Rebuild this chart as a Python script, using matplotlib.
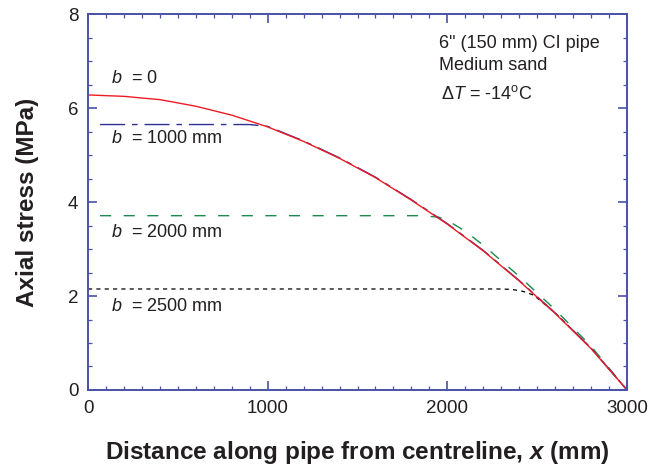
import matplotlib
matplotlib.use("Agg")
import matplotlib.pyplot as plt
from matplotlib.ticker import MultipleLocator

# b = 0 (red, solid)
x_b0 = [0, 200, 400, 600, 800, 1000, 1200, 1400, 1600, 1800, 2000,
        2200, 2400, 2600, 2800, 3000]
s_b0 = [6.28, 6.25, 6.18, 6.04, 5.85, 5.60, 5.29, 4.93, 4.52, 4.04, 3.53,
        2.96, 2.32, 1.63, 0.88, 0.0]

# b = 1000 mm (blue, dash-dot)
x_b1000 = [67, 900, 1000, 1200, 1400, 1600, 1800, 2000, 2200, 2400, 2600,
           2800, 3000]
s_b1000 = [5.65, 5.65, 5.61, 5.30, 4.94, 4.53, 4.05, 3.54, 2.97, 2.33, 1.64,
           0.89, 0.0]

# b = 2000 mm (green, dashed)
x_b2000 = [67, 1850, 1950, 2000, 2100, 2200, 2400, 2600, 2800, 3000]
s_b2000 = [3.71, 3.71, 3.68, 3.61, 3.38, 3.08, 2.42, 1.71, 0.93, 0.0]

# b = 2500 mm (black, short dashes)
x_b2500 = [0, 2300, 2360, 2420, 2480, 2600, 2800, 3000]
s_b2500 = [2.15, 2.15, 2.14, 2.10, 2.02, 1.64, 0.89, 0.0]

labels = ["$\\mathit{b}$  = 0", "$\\mathit{b}$  = 1000 mm",
          "$\\mathit{b}$  = 2000 mm", "$\\mathit{b}$  = 2500 mm"]
label_y = [6.64, 5.36, 3.36, 1.77]

plt.rcParams["font.family"] = ["Liberation Sans", "DejaVu Sans"]
plt.rcParams["mathtext.fontset"] = "custom"
plt.rcParams["mathtext.rm"] = "Liberation Sans"
plt.rcParams["mathtext.it"] = "Liberation Sans:italic"
plt.rcParams["mathtext.bf"] = "Liberation Sans:bold"
plt.rcParams["mathtext.bfit"] = "Liberation Sans:italic:bold"
plt.rcParams["lines.scale_dashes"] = False

axcol = "#4a52a8"
txtcol = "#231f20"

fig = plt.figure(figsize=(6.52, 4.71), dpi=100)
ax = fig.add_axes([0.135, 0.172, 0.8267, 0.798])

ax.plot(x_b2500, s_b2500, color="black", lw=0.9, dashes=(3, 3))
ax.plot(x_b2000, s_b2000, color="#1b8a4c", lw=1.0, dashes=(8, 9))
ax.plot(x_b1000, s_b1000, color="#2e3192", lw=1.0, dashes=(18, 5, 4, 5))
ax.plot(x_b0, s_b0, color="#ed1c24", lw=1.0)

for lab, y in zip(labels, label_y):
    ax.text(130, y, lab, fontsize=13, color=txtcol, va="center", ha="left")

ax.text(1953, 7.38, '6" (150 mm) CI pipe', fontsize=13, color=txtcol, va="center")
ax.text(1953, 6.91, "Medium sand", fontsize=13, color=txtcol, va="center")
ax.text(1965, 6.30, "$\\Delta\\mathit{T}$ = -14$^{\\rm o}$C", fontsize=13,
        color=txtcol, va="center")

ax.set_xlim(0, 3000)
ax.set_ylim(0, 8)
ax.xaxis.set_major_locator(MultipleLocator(1000))
ax.xaxis.set_minor_locator(MultipleLocator(100))
ax.yaxis.set_major_locator(MultipleLocator(2))
ax.yaxis.set_minor_locator(MultipleLocator(0.5))

ax.tick_params(which="both", direction="in", top=True, right=True,
               color=axcol, labelcolor=txtcol, labelsize=13.5)
ax.tick_params(which="major", length=6.5, width=1.2, pad=7)
ax.tick_params(which="minor", length=3, width=0.9)
for sp in ax.spines.values():
    sp.set_color(axcol)
    sp.set_linewidth(1.4)

ax.set_xlabel("Distance along pipe from centreline, $\\mathbfit{x}$ (mm)",
              fontsize=17.5, fontweight="bold", color=txtcol, labelpad=16)
ax.set_ylabel("Axial stress (MPa)", fontsize=17.5, fontweight="bold",
              color=txtcol, labelpad=21)

fig.savefig("out.png", dpi=100)
